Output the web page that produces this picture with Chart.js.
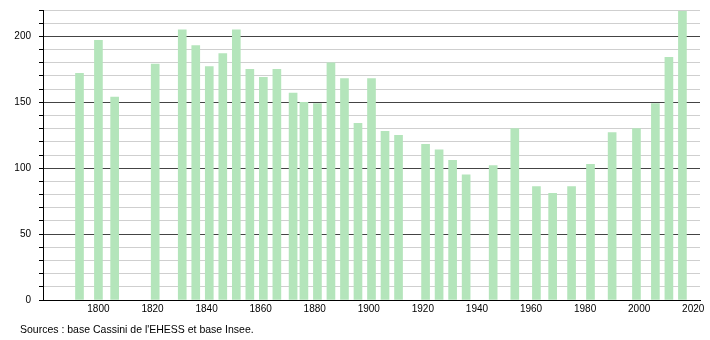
<!DOCTYPE html>
<html>
<head>
<meta charset="utf-8">
<script src="https://cdn.jsdelivr.net/npm/chart.js@4"></script>
<style>
  body { margin: 0; background: #fff; }
  #wrap { position: relative; width: 710px; height: 340px; }
  #source {
    position: absolute; left: 20px; top: 323px;
    font: 10.5px "Liberation Sans", Arial, sans-serif; color: #000;
  }
</style>
</head>
<body>
<div id="wrap">
  <canvas id="popChart" width="710" height="340"></canvas>
  <div id="source">Sources : base Cassini de l'EHESS et base Insee.</div>
</div>
<script>
// Census years and population
const years = [1793, 1800, 1806, 1821, 1831, 1836, 1841, 1846, 1851, 1856, 1861, 1866,
  1872, 1876, 1881, 1886, 1891, 1896, 1901, 1906, 1911, 1921, 1926, 1931, 1936,
  1946, 1954, 1962, 1968, 1975, 1982, 1990, 1999, 2006, 2011, 2016];
const population = [172, 197, 154, 179, 205, 193, 177, 187, 205, 175, 169, 175,
  157, 150, 149, 180, 168, 134, 168, 128, 125, 118, 114, 106, 95,
  102, 130, 86, 81, 86, 103, 127, 130, 149, 184, 219];

// Axis ticks
const xTicks = [1800, 1820, 1840, 1860, 1880, 1900, 1920, 1940, 1960, 1980, 2000, 2020];
const yLabels = [0, 50, 100, 150, 200];

const ctx = document.getElementById("popChart").getContext("2d");
new Chart(ctx, {
  type: "bar",
  data: {
    datasets: [{
      data: years.map((y, i) => ({ x: y, y: population[i] })),
      backgroundColor: "#b4e5bb",
      borderWidth: 0,
      barThickness: 8
    }]
  },
  options: {
    responsive: false,
    animation: false,
    layout: { padding: { top: 10, right: 10, left: 0, bottom: 0 } },
    plugins: { legend: { display: false }, tooltip: { enabled: false } },
    scales: {
      x: {
        type: "linear",
        offset: false,
        min: 1779.5,
        max: 2022.5,
        afterBuildTicks: (scale) => { scale.ticks = xTicks.map(v => ({ value: v })); },
        afterFit: (scale) => { scale.height = 40; },
        grid: { display: false, drawTicks: false, offset: false },
        border: { color: "#000", width: 1 },
        ticks: {
          color: "#000",
          padding: 3,
          autoSkip: false,
          maxRotation: 0,
          font: { family: "Liberation Sans", size: 10 },
          callback: (v) => String(v)
        }
      },
      y: {
        min: 0,
        max: 220,
        afterFit: (scale) => {
          scale.width = 43;
          scale.paddingTop = 0;
          scale.paddingBottom = 0;
        },
        grid: {
          color: (c) => (c.tick && c.tick.value % 50 === 0) ? "#444" : "#cfcfcf",
          tickColor: "#000",
          tickLength: 4,
          lineWidth: 1
        },
        border: { color: "#000", width: 1 },
        ticks: {
          stepSize: 10,
          autoSkip: false,
          color: "#000",
          padding: 8,
          font: { family: "Liberation Sans", size: 10 },
          callback: (v) => yLabels.includes(v) ? String(v) : ""
        }
      }
    }
  }
});
</script>
</body>
</html>
